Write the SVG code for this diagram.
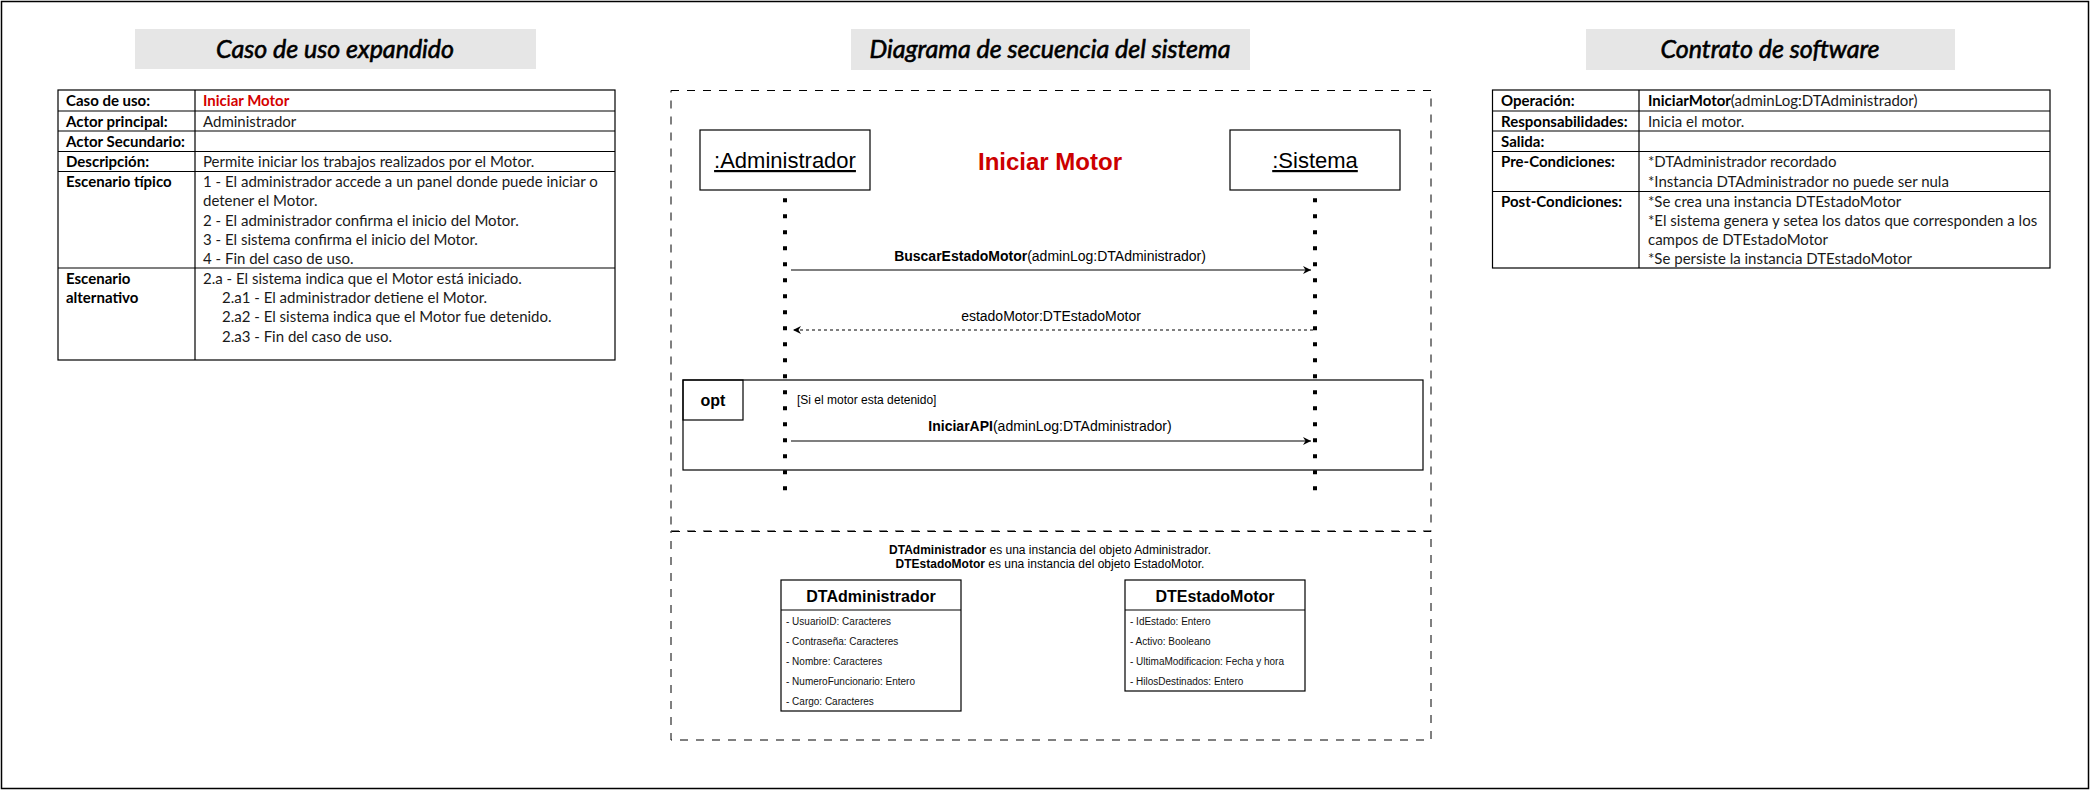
<svg xmlns="http://www.w3.org/2000/svg" width="2091" height="792" viewBox="0 0 2091 792">
<style>
.frame{fill:#fff;stroke:#000;stroke-width:1.5}
.head{fill:#e6e6e6;stroke:none}
.htxt{font-family:Lato,'Open Sans',sans-serif;font-style:italic;font-size:25px;fill:#000;stroke:#000;stroke-width:0.6;text-anchor:middle}
.cell{fill:none;stroke:#000;stroke-width:1.2}
.cal{font-family:Lato,'Open Sans',sans-serif;font-size:15px;fill:#1a1a1a}
.b{font-weight:bold;fill:#000}
.ar{font-family:'Liberation Sans',Arial,sans-serif;fill:#000}
.dash{fill:none;stroke:#000;stroke-width:1;stroke-dasharray:8 8}
.box{fill:#fff;stroke:#000;stroke-width:1.2}
.life{stroke:#000;stroke-width:4;stroke-dasharray:4 12;fill:none}
.msg{stroke:#000;stroke-width:1.2;fill:none}
.ret{stroke:#000;stroke-width:1;stroke-dasharray:3 3;fill:none}
.attr{font-family:'Liberation Sans',Arial,sans-serif;font-size:10px;fill:#111}
</style>
<defs>
<marker id="arr" markerUnits="userSpaceOnUse" markerWidth="10" markerHeight="10" refX="8" refY="4" orient="auto">
<path d="M0,0 L8,4 L0,8 L2.5,4 Z" fill="#000"/>
</marker>
</defs>
<rect class="frame" x="1.5" y="1.5" width="2087" height="787"/>

<g id="caso-de-uso">
<rect class="head" x="135" y="29" width="401" height="40"/>
<text class="htxt" x="335" y="57.5">Caso de uso expandido</text>
<rect class="cell" x="58" y="90" width="557" height="270"/>
<line class="cell" x1="195" y1="90" x2="195" y2="360"/>
<line class="cell" x1="58" y1="111" x2="615" y2="111"/>
<line class="cell" x1="58" y1="131" x2="615" y2="131"/>
<line class="cell" x1="58" y1="151.5" x2="615" y2="151.5"/>
<line class="cell" x1="58" y1="171.5" x2="615" y2="171.5"/>
<line class="cell" x1="58" y1="268" x2="615" y2="268"/>
<text class="cal b" x="66" y="106">Caso de uso:</text>
<text class="cal b" x="203" y="106" style="fill:#d40000">Iniciar Motor</text>
<text class="cal b" x="66" y="127">Actor principal:</text>
<text class="cal" x="203" y="127">Administrador</text>
<text class="cal b" x="66" y="147">Actor Secundario:</text>
<text class="cal b" x="66" y="167">Descripción:</text>
<text class="cal" x="203" y="167">Permite iniciar los trabajos realizados por el Motor.</text>
<text class="cal b" x="66" y="187">Escenario típico</text>
<text class="cal" x="203" y="187">1 - El administrador accede a un panel donde puede iniciar o</text>
<text class="cal" x="203" y="206">detener el Motor.</text>
<text class="cal" x="203" y="226">2 - El administrador confirma el inicio del Motor.</text>
<text class="cal" x="203" y="245">3 - El sistema confirma el inicio del Motor.</text>
<text class="cal" x="203" y="264">4 - Fin del caso de uso.</text>
<text class="cal b" x="66" y="284">Escenario</text>
<text class="cal b" x="66" y="303">alternativo</text>
<text class="cal" x="203" y="284">2.a - El sistema indica que el Motor está iniciado.</text>
<text class="cal" x="222" y="303">2.a1 - El administrador detiene el Motor.</text>
<text class="cal" x="222" y="322">2.a2 - El sistema indica que el Motor fue detenido.</text>
<text class="cal" x="222" y="342">2.a3 - Fin del caso de uso.</text>
</g>

<g id="secuencia-titulo">
<rect class="head" x="851" y="29" width="399" height="41"/>
<text class="htxt" x="1050" y="57.5">Diagrama de secuencia del sistema</text>
</g>

<g id="marco-secuencia">
<rect class="dash" x="671" y="90.5" width="760" height="441"/>
</g>
<g id="administrador">
<rect class="box" x="700" y="130" width="170" height="60"/>
<text class="ar" x="785" y="168" font-size="22" text-anchor="middle" text-decoration="underline">:Administrador</text>
</g>
<g id="sistema">
<rect class="box" x="1230" y="130" width="170" height="60"/>
<text class="ar" x="1315" y="168" font-size="22" text-anchor="middle" text-decoration="underline">:Sistema</text>
</g>
<g id="titulo-iniciar">
<text class="ar" x="1050" y="169.5" font-size="24" font-weight="bold" text-anchor="middle" style="fill:#cc0000">Iniciar Motor</text>
</g>
<g id="opt-frame">
<rect x="683" y="380" width="740" height="90" fill="none" stroke="#000" stroke-width="1.2"/>
<rect x="683" y="380" width="60" height="40" fill="none" stroke="#000" stroke-width="1.2"/>
<text class="ar" x="713" y="406" font-size="16" font-weight="bold" text-anchor="middle">opt</text>
<text class="ar" x="797" y="403.5" font-size="12">[Si el motor esta detenido]</text>
</g>

<g id="connectors">
<line class="life" x1="785" y1="198.3" x2="785" y2="491"/>
<line class="life" x1="1315" y1="198.3" x2="1315" y2="491"/>
<line class="msg" x1="791" y1="270" x2="1311" y2="270" marker-end="url(#arr)"/>
<text class="ar" x="1050" y="261" font-size="14" text-anchor="middle"><tspan font-weight="bold">BuscarEstadoMotor</tspan>(adminLog:DTAdministrador)</text>
<line class="ret" x1="1313" y1="330" x2="793" y2="330" marker-end="url(#arr)"/>
<text class="ar" x="1051" y="320.5" font-size="14" text-anchor="middle">estadoMotor:DTEstadoMotor</text>
<line class="msg" x1="791" y1="441" x2="1311" y2="441" marker-end="url(#arr)"/>
<text class="ar" x="1050" y="430.5" font-size="14" text-anchor="middle"><tspan font-weight="bold">IniciarAPI</tspan>(adminLog:DTAdministrador)</text>
</g>

<g id="marco-datos">
<rect class="dash" x="671" y="531" width="760" height="209"/>
<text class="ar" x="1050" y="553.5" font-size="12" text-anchor="middle"><tspan font-weight="bold">DTAdministrador</tspan> es una instancia del objeto Administrador.</text>
<text class="ar" x="1050" y="567.5" font-size="12" text-anchor="middle"><tspan font-weight="bold">DTEstadoMotor</tspan> es una instancia del objeto EstadoMotor.</text>
</g>
<g id="dtadministrador">
<rect class="box" x="781" y="580" width="180" height="131"/>
<line class="box" x1="781" y1="610" x2="961" y2="610"/>
<text class="ar" x="871" y="601.5" font-size="16" font-weight="bold" text-anchor="middle">DTAdministrador</text>
<text class="attr" x="786" y="624.5">- UsuarioID: Caracteres</text>
<text class="attr" x="786" y="644.5">- Contraseña: Caracteres</text>
<text class="attr" x="786" y="664.5">- Nombre: Caracteres</text>
<text class="attr" x="786" y="684.5">- NumeroFuncionario: Entero</text>
<text class="attr" x="786" y="704.5">- Cargo: Caracteres</text>
</g>
<g id="dtestadomotor">
<rect class="box" x="1125" y="580" width="180" height="111"/>
<line class="box" x1="1125" y1="610" x2="1305" y2="610"/>
<text class="ar" x="1215" y="601.5" font-size="16" font-weight="bold" text-anchor="middle">DTEstadoMotor</text>
<text class="attr" x="1130" y="624.5">- IdEstado: Entero</text>
<text class="attr" x="1130" y="644.5">- Activo: Booleano</text>
<text class="attr" x="1130" y="664.5">- UltimaModificacion: Fecha y hora</text>
<text class="attr" x="1130" y="684.5">- HilosDestinados: Entero</text>
</g>

<g id="contrato">
<rect class="head" x="1586" y="29" width="369" height="41"/>
<text class="htxt" x="1770" y="57.5">Contrato de software</text>
<rect class="cell" x="1492.5" y="90" width="557.5" height="178"/>
<line class="cell" x1="1639" y1="90" x2="1639" y2="268"/>
<line class="cell" x1="1492.5" y1="111" x2="2050" y2="111"/>
<line class="cell" x1="1492.5" y1="131" x2="2050" y2="131"/>
<line class="cell" x1="1492.5" y1="151.5" x2="2050" y2="151.5"/>
<line class="cell" x1="1492.5" y1="191.5" x2="2050" y2="191.5"/>
<text class="cal b" x="1501" y="106">Operación:</text>
<text class="cal" x="1648" y="106"><tspan class="b">IniciarMotor</tspan>(adminLog:DTAdministrador)</text>
<text class="cal b" x="1501" y="127">Responsabilidades:</text>
<text class="cal" x="1648" y="127">Inicia el motor.</text>
<text class="cal b" x="1501" y="147">Salida:</text>
<text class="cal b" x="1501" y="167">Pre-Condiciones:</text>
<text class="cal" x="1648" y="167">*DTAdministrador recordado</text>
<text class="cal" x="1648" y="186.5">*Instancia DTAdministrador no puede ser nula</text>
<text class="cal b" x="1501" y="207">Post-Condiciones:</text>
<text class="cal" x="1648" y="207">*Se crea una instancia DTEstadoMotor</text>
<text class="cal" x="1648" y="226">*El sistema genera y setea los datos que corresponden a los</text>
<text class="cal" x="1648" y="245">campos de DTEstadoMotor</text>
<text class="cal" x="1648" y="264">*Se persiste la instancia DTEstadoMotor</text>
</g>
</svg>
